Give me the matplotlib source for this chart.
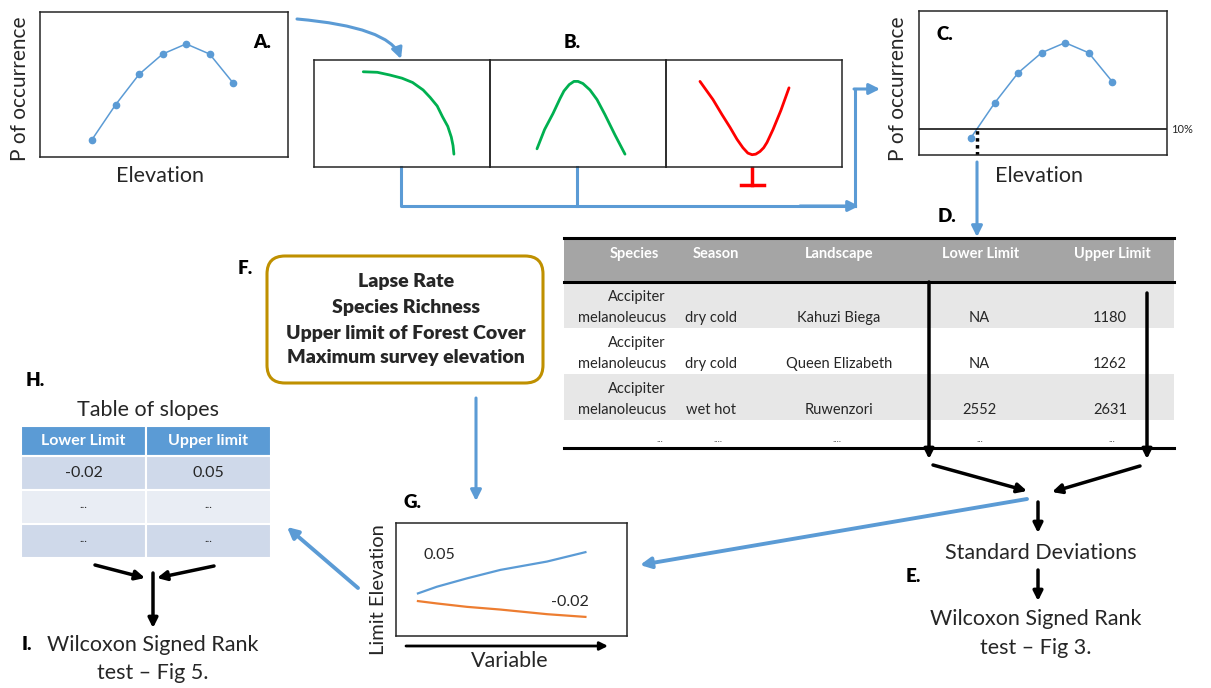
import matplotlib
matplotlib.use("Agg")
import matplotlib.pyplot as plt
from matplotlib.patches import Rectangle, FancyBboxPatch

plt.rcParams['font.family'] = ['Lato', 'DejaVu Sans']

W, H = 1211, 688
BLUE = '#5b9bd5'
GREEN = '#00b050'
RED = '#ff0000'
ORANGE = '#ed7d31'
GOLD = '#bf9000'
INK = '#262626'

# --- data ---
elevation = [1, 2, 3, 4, 5, 6, 7]
p_occurrence = [0.12, 0.36, 0.57, 0.71, 0.78, 0.71, 0.51]
threshold = 0.18          # drawn cut-off, labelled "10%"
lower_limit_elev = 1.25

# panel B response shapes (cell fractions)
decline_x = [0.28, 0.36, 0.43, 0.50, 0.56, 0.62, 0.66, 0.70, 0.73, 0.76, 0.78, 0.79, 0.795]
decline_y = [0.89, 0.885, 0.86, 0.83, 0.79, 0.72, 0.65, 0.57, 0.47, 0.38, 0.28, 0.20, 0.12]
bell_x = [0.267, 0.31, 0.358, 0.398, 0.42, 0.45, 0.477, 0.50, 0.528, 0.568, 0.608, 0.653, 0.71, 0.767]
bell_y = [0.17, 0.35, 0.50, 0.64, 0.71, 0.77, 0.80, 0.80, 0.78, 0.72, 0.63, 0.49, 0.30, 0.12]
ushape_x = [0.193, 0.267, 0.318, 0.364, 0.403, 0.437, 0.465, 0.489, 0.51, 0.534, 0.555, 0.574, 0.608, 0.653, 0.699]
ushape_y = [0.80, 0.63, 0.49, 0.37, 0.26, 0.18, 0.13, 0.115, 0.12, 0.145, 0.18, 0.23, 0.35, 0.53, 0.74]

# panel G
variable = [0.95, 1.77, 3.07, 4.52, 6.54, 8.2]
upper_limit_line = [0.377, 0.436, 0.51, 0.585, 0.659, 0.742]
lower_limit_line = [0.309, 0.288, 0.258, 0.234, 0.193, 0.169]
upper_slope = "0.05"
lower_slope = "-0.02"

# table D
d_headers = ["Species", "Season", "Landscape", "Lower Limit", "Upper Limit"]
d_species = ["Accipiter", "Accipiter", "Accipiter"]
d_species2 = ["melanoleucus", "melanoleucus", "melanoleucus"]
d_season = ["dry cold", "dry cold", "wet hot"]
d_landscape = ["Kahuzi Biega", "Queen Elizabeth", "Ruwenzori"]
d_lower = ["NA", "NA", "2552"]
d_upper = ["1180", "1262", "2631"]
d_more = ["...", "....", "....", "...", "..."]

# table H
h_headers = ["Lower Limit", "Upper limit"]
h_rows = [["-0.02", "0.05"], ["...", "..."], ["...", "..."]]

fig = plt.figure(figsize=(W / 100, H / 100), dpi=100)
ax = fig.add_axes([0, 0, 1, 1])
ax.set_xlim(0, W)
ax.set_ylim(H, 0)
ax.axis('off')


def px_axes(x0, y0, x1, y1):
    a = fig.add_axes([x0 / W, 1 - y1 / H, (x1 - x0) / W, (y1 - y0) / H])
    a.patch.set_alpha(0)
    a.set_xticks([])
    a.set_yticks([])
    for s in a.spines.values():
        s.set_color(INK)
        s.set_linewidth(1.1)
    return a


def arrow(tail, head, color=BLUE, lw=2.2, ms=16, style='-|>', conn=None):
    props = dict(arrowstyle=style, color=color, lw=lw, mutation_scale=ms,
                 shrinkA=0, shrinkB=0)
    if conn:
        props['connectionstyle'] = conn
    ax.annotate('', xy=head, xytext=tail, arrowprops=props)


def label(x, y, s, size=13.5, bold=True, **kw):
    ax.text(x, y, s, fontsize=size, fontweight='heavy' if bold else 'normal',
            ha=kw.pop('ha', 'center'), va=kw.pop('va', 'center'), color=kw.pop('color', 'black'), **kw)


# --- A ---
axA = px_axes(40, 12, 288, 157)
axA.plot(elevation, p_occurrence, color=BLUE, lw=1.1, marker='o', ms=4.5)
axA.set_xlim(-1.21, 9.33)
axA.set_ylim(0, 1)
label(262, 42, "A.")
label(20, 89, "P of occurrence", size=15, bold=False, rotation=90, color=INK)
label(160, 176, "Elevation", size=15.5, bold=False, color=INK)

# --- B ---
cells = [(314, 490), (490, 666), (666, 842)]
shapes = [(decline_x, decline_y, GREEN), (bell_x, bell_y, GREEN), (ushape_x, ushape_y, RED)]
for (x0, x1), (sx, sy, c) in zip(cells, shapes):
    a = px_axes(x0, 60, x1, 167)
    a.plot(sx, sy, color=c, lw=2.0, solid_capstyle='round', solid_joinstyle='round')
    a.set_xlim(0, 1)
    a.set_ylim(0, 1)
label(572, 43, "B.")
ax.plot([752, 752], [168, 185], color=RED, lw=2.5)
ax.plot([741, 764], [185, 185], color=RED, lw=2.5)

arrow((297, 19), (401, 59), conn='angle3,angleA=-5,angleB=-70')
ax.plot([401, 401, 855], [167, 206, 206], color=BLUE, lw=2.2)
ax.plot([577, 577], [167, 206], color=BLUE, lw=2.2)
arrow((800, 206), (859, 206))
ax.plot([855, 855], [206, 89], color=BLUE, lw=2.2)
arrow((854, 89), (880, 89))

# --- C ---
axC = px_axes(919, 11, 1167, 155)
axC.plot(elevation, p_occurrence, color=BLUE, lw=1.1, marker='o', ms=4.5)
axC.axhline(threshold, color='black', lw=1.1)
axC.plot([lower_limit_elev, lower_limit_elev], [0, threshold], color='black', lw=2.5, ls=(0, (1, 1)))
axC.set_xlim(-1.21, 9.33)
axC.set_ylim(0, 1)
axC.text(1.015, threshold, "10%", transform=axC.transAxes, fontsize=8, va='center', ha='left', color=INK)
label(945, 35, "C.")
label(898, 89, "P of occurrence", size=15, bold=False, rotation=90, color=INK)
label(1039, 176, "Elevation", size=15.5, bold=False, color=INK)
arrow((977, 162), (977, 237))
label(947, 216, "D.")

# --- D table ---
tx0, tx1 = 564, 1174
ax.add_patch(Rectangle((tx0, 238), tx1 - tx0, 44, color='#a5a5a5', lw=0))
row_tops = [282, 328, 374]
for i, top in enumerate(row_tops):
    if i % 2 == 0:
        ax.add_patch(Rectangle((tx0, top), tx1 - tx0, 46, color='#e7e7e7', lw=0))
for yy in (238, 282, 448):
    ax.plot([tx0, tx1], [yy, yy], color='black', lw=2.2)
hx = [(659, 'right'), (716, 'center'), (839, 'center'), (981, 'center'), (1112, 'center')]
for (x, ha), h in zip(hx, d_headers):
    ax.text(x, 254, h, fontsize=10.5, fontweight='bold', color='white', ha=ha, va='center')
for i, top in enumerate(row_tops):
    y1, y2 = top + 15, top + 36
    ax.text(666, y1, d_species[i], fontsize=10.5, ha='right', va='center', color=INK)
    ax.text(666, y2, d_species2[i], fontsize=10.5, ha='right', va='center', color=INK)
    ax.text(711, y2, d_season[i], fontsize=10.5, ha='center', va='center', color=INK)
    ax.text(839, y2, d_landscape[i], fontsize=10.5, ha='center', va='center', color=INK)
    ax.text(979, y2, d_lower[i], fontsize=10.5, ha='center', va='center', color=INK)
    ax.text(1127, y2, d_upper[i], fontsize=10.5, ha='right', va='center', color=INK)
for x, s in zip([660, 718, 837, 980, 1112], d_more):
    ax.text(x, 439, s, fontsize=7, ha='center', va='center', color=INK)

arrow((929, 282), (929, 459), color='black', lw=2.5, ms=14)
arrow((1147, 293), (1147, 459), color='black', lw=2.5, ms=14)

# --- E ---
arrow((933, 465), (1027, 491), color='black', lw=2.5, ms=14)
arrow((1140, 466), (1052, 492), color='black', lw=2.5, ms=14)
arrow((1038, 502), (1038, 533), color='black', lw=2.5, ms=14)
label(1041, 553, "Standard Deviations", size=15.5, bold=False, color=INK)
arrow((1038, 570), (1038, 601), color='black', lw=2.5, ms=14)
label(913, 577, "E.")
label(1036, 619, "Wilcoxon Signed Rank", size=15.5, bold=False, color=INK)
label(1036, 648, "test \u2013 Fig 3.", size=15.5, bold=False, color=INK)

# blue link E -> G
arrow((1027, 499), (640, 565), lw=2.8)

# --- F ---
ax.add_patch(FancyBboxPatch((267, 256), 276, 127, boxstyle='round,pad=0,rounding_size=18',
                            fc='white', ec=GOLD, lw=2.2))
for y, s in zip([282, 308, 333, 358], ["Lapse Rate", "Species Richness",
                                       "Upper limit of Forest Cover", "Maximum survey elevation"]):
    label(406, y, s, size=14, color=INK)
label(245, 268, "F.")
arrow((476, 398), (476, 501))

# --- G ---
axG = px_axes(396, 523, 627, 636)
axG.plot(variable, upper_limit_line, color=BLUE, lw=1.6)
axG.plot(variable, lower_limit_line, color=ORANGE, lw=1.6)
axG.set_xlim(0, 10)
axG.set_ylim(0, 1)
axG.text(variable[0] + 0.25, 0.72, upper_slope, fontsize=11.5, color=INK, ha='left', va='center')
axG.text(variable[-1] + 0.15, 0.30, lower_slope, fontsize=11.5, color=INK, ha='right', va='center')
label(412, 503, "G.")
arrow((406, 646), (608, 646), color='black', lw=2.0, ms=12)
label(510, 661, "Variable", size=15.5, bold=False, color=INK)
label(378, 590, "Limit Elevation", size=14.5, bold=False, rotation=90, color=INK)

arrow((358, 588), (287, 527), lw=2.8)

# --- H ---
label(35, 380, "H.")
label(148, 410, "Table of slopes", size=15.5, bold=False, color=INK)
cols = [(21, 146), (146, 271)]
ax_rows = [(426, 456), (456, 490), (490, 524), (524, 558)]
fills = ['#cfd9ea', '#e9edf4', '#cfd9ea']
for (c0, c1), h in zip(cols, h_headers):
    ax.add_patch(Rectangle((c0, 426), c1 - c0, 30, fc=BLUE, ec='white', lw=1.5))
    ax.text((c0 + c1) / 2, 441, h, fontsize=11.5, fontweight='bold', color='white', ha='center', va='center')
for r, ((y0, y1), row) in enumerate(zip(ax_rows[1:], h_rows)):
    for (c0, c1), val in zip(cols, row):
        ax.add_patch(Rectangle((c0, y0), c1 - c0, y1 - y0, fc=fills[r], ec='white', lw=1.5))
        ax.text((c0 + c1) / 2, (y0 + y1) / 2 - (2 if val == "..." else 0), val,
                fontsize=11.5 if val != "..." else 8, color=INK, ha='center', va='center')

arrow((95, 565), (145, 578), color='black', lw=2.5, ms=14)
arrow((214, 566), (157, 578), color='black', lw=2.5, ms=14)
arrow((153, 573), (153, 628), color='black', lw=2.5, ms=14)
label(27, 645, "I.")
label(153, 645, "Wilcoxon Signed Rank", size=15.5, bold=False, color=INK)
label(153, 673, "test \u2013 Fig 5.", size=15.5, bold=False, color=INK)

fig.savefig("out.png", dpi=100)
